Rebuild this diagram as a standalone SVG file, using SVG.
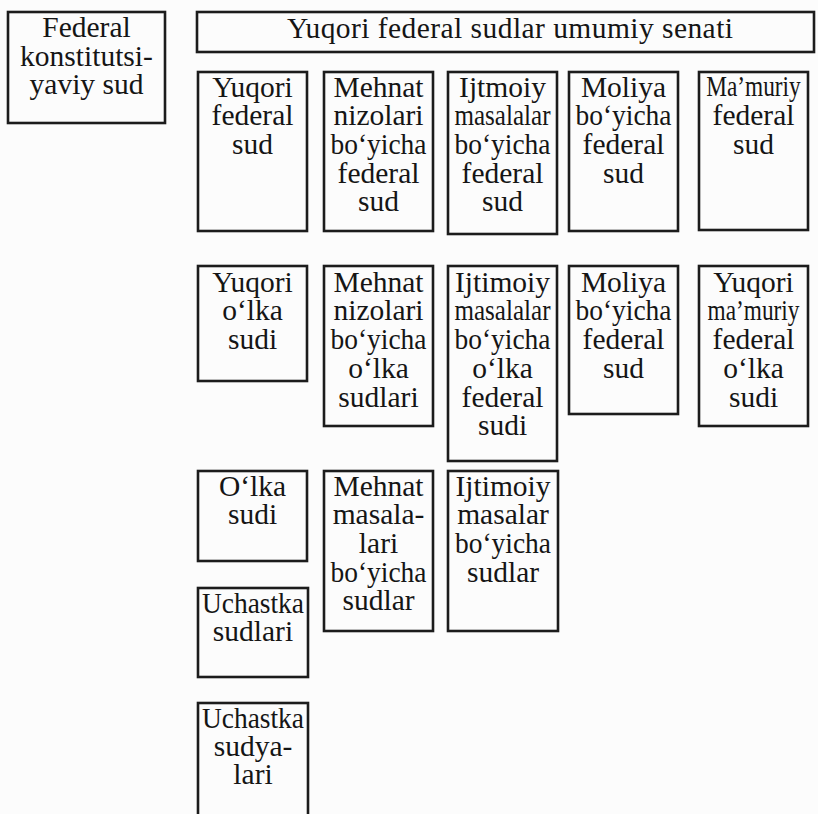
<svg xmlns="http://www.w3.org/2000/svg" width="818" height="814" viewBox="0 0 818 814">
  <style>
    .bg { fill: #fcfcfc; }
    .box { fill: none; stroke: #1c1c1c; stroke-width: 2.6; }
    .t { font-family: "Liberation Serif", "Times New Roman", serif; font-size: 29.5px; fill: #151515; text-anchor: middle; }
  </style>
  <rect class="bg" x="0" y="0" width="818" height="814"/>

  <!-- left standalone court -->
  <g id="federal-konstitutsiyaviy-sud">
    <rect class="box" x="8" y="12" width="157" height="111"/>
    <text class="t" x="86.5" y="37">Federal</text>
    <text class="t" x="86.5" y="66">konstitutsi-</text>
    <text class="t" x="86.5" y="94">yaviy sud</text>
  </g>

  <!-- joint senate header -->
  <g id="umumiy-senat">
    <rect class="box" x="197" y="12" width="617" height="40"/>
    <text class="t" x="510" y="38" textLength="446" lengthAdjust="spacing">Yuqori federal sudlar umumiy senati</text>
  </g>

  <!-- row 1: federal courts -->
  <g id="yuqori-federal-sud">
    <rect class="box" x="198" y="72" width="109" height="159"/>
    <text class="t" x="252.5" y="97">Yuqori</text>
    <text class="t" x="252.5" y="125">federal</text>
    <text class="t" x="252.5" y="154">sud</text>
  </g>
  <g id="mehnat-federal-sud">
    <rect class="box" x="324" y="72" width="109" height="159"/>
    <text class="t" x="378.5" y="97">Mehnat</text>
    <text class="t" x="378.5" y="125">nizolari</text>
    <text class="t" x="378.5" y="154" textLength="96" lengthAdjust="spacingAndGlyphs">bo‘yicha</text>
    <text class="t" x="378.5" y="183">federal</text>
    <text class="t" x="378.5" y="211">sud</text>
  </g>
  <g id="ijtimoiy-federal-sud">
    <rect class="box" x="448" y="72" width="109" height="162"/>
    <text class="t" x="502.5" y="97">Ijtmoiy</text>
    <text class="t" x="502.5" y="125" textLength="96" lengthAdjust="spacingAndGlyphs">masalalar</text>
    <text class="t" x="502.5" y="154" textLength="96" lengthAdjust="spacingAndGlyphs">bo‘yicha</text>
    <text class="t" x="502.5" y="183">federal</text>
    <text class="t" x="502.5" y="211">sud</text>
  </g>
  <g id="moliya-federal-sud">
    <rect class="box" x="569" y="72" width="109" height="159"/>
    <text class="t" x="623.5" y="97">Moliya</text>
    <text class="t" x="623.5" y="125" textLength="96" lengthAdjust="spacingAndGlyphs">bo‘yicha</text>
    <text class="t" x="623.5" y="154">federal</text>
    <text class="t" x="623.5" y="183">sud</text>
  </g>
  <g id="mamuriy-federal-sud">
    <rect class="box" x="699" y="72" width="109" height="158"/>
    <!-- condensed word, squeezed horizontally to fit the narrow box -->
    <text class="t" transform="translate(753.5 96) scale(0.79 1)">Ma’muriy</text>
    <text class="t" x="753.5" y="125">federal</text>
    <text class="t" x="753.5" y="154">sud</text>
  </g>

  <!-- row 2: land-level courts -->
  <g id="yuqori-olka-sudi">
    <rect class="box" x="198" y="266" width="109" height="115"/>
    <text class="t" x="252.5" y="292">Yuqori</text>
    <text class="t" x="252.5" y="320">o‘lka</text>
    <text class="t" x="252.5" y="349">sudi</text>
  </g>
  <g id="mehnat-olka-sudlari">
    <rect class="box" x="324" y="266" width="109" height="160"/>
    <text class="t" x="378.5" y="292">Mehnat</text>
    <text class="t" x="378.5" y="320">nizolari</text>
    <text class="t" x="378.5" y="349" textLength="96" lengthAdjust="spacingAndGlyphs">bo‘yicha</text>
    <text class="t" x="378.5" y="378">o‘lka</text>
    <text class="t" x="378.5" y="407">sudlari</text>
  </g>
  <g id="ijtimoiy-olka-federal-sudi">
    <rect class="box" x="448" y="266" width="109" height="195"/>
    <text class="t" x="502.5" y="292">Ijtimoiy</text>
    <text class="t" x="502.5" y="320" textLength="96" lengthAdjust="spacingAndGlyphs">masalalar</text>
    <text class="t" x="502.5" y="349" textLength="96" lengthAdjust="spacingAndGlyphs">bo‘yicha</text>
    <text class="t" x="502.5" y="378">o‘lka</text>
    <text class="t" x="502.5" y="407">federal</text>
    <text class="t" x="502.5" y="435">sudi</text>
  </g>
  <g id="moliya-federal-sud-2">
    <rect class="box" x="569" y="266" width="109" height="148"/>
    <text class="t" x="623.5" y="292">Moliya</text>
    <text class="t" x="623.5" y="320" textLength="96" lengthAdjust="spacingAndGlyphs">bo‘yicha</text>
    <text class="t" x="623.5" y="349">federal</text>
    <text class="t" x="623.5" y="378">sud</text>
  </g>
  <g id="yuqori-mamuriy-olka-sudi">
    <rect class="box" x="699" y="266" width="109" height="160"/>
    <text class="t" x="753.5" y="292">Yuqori</text>
    <text class="t" transform="translate(753.5 320) scale(0.79 1)">ma’muriy</text>
    <text class="t" x="753.5" y="349">federal</text>
    <text class="t" x="753.5" y="378">o‘lka</text>
    <text class="t" x="753.5" y="407">sudi</text>
  </g>

  <!-- row 3: lower courts -->
  <g id="olka-sudi">
    <rect class="box" x="198" y="471" width="109" height="90"/>
    <text class="t" x="252.5" y="496">O‘lka</text>
    <text class="t" x="252.5" y="524">sudi</text>
  </g>
  <g id="mehnat-masalalari-sudlar">
    <rect class="box" x="324" y="471" width="109" height="160"/>
    <text class="t" x="378.5" y="496">Mehnat</text>
    <text class="t" x="378.5" y="524">masala-</text>
    <text class="t" x="378.5" y="553">lari</text>
    <text class="t" x="378.5" y="582" textLength="96" lengthAdjust="spacingAndGlyphs">bo‘yicha</text>
    <text class="t" x="378.5" y="610">sudlar</text>
  </g>
  <g id="ijtimoiy-masalar-sudlar">
    <rect class="box" x="448" y="471" width="110" height="160"/>
    <text class="t" x="503" y="496">Ijtimoiy</text>
    <text class="t" x="503" y="524">masalar</text>
    <text class="t" x="503" y="553" textLength="96" lengthAdjust="spacingAndGlyphs">bo‘yicha</text>
    <text class="t" x="503" y="582">sudlar</text>
  </g>

  <!-- district level -->
  <g id="uchastka-sudlari">
    <rect class="box" x="198" y="588" width="110" height="89"/>
    <text class="t" x="253" y="613" textLength="102" lengthAdjust="spacingAndGlyphs">Uchastka</text>
    <text class="t" x="253" y="641">sudlari</text>
  </g>
  <g id="uchastka-sudyalari">
    <rect class="box" x="198" y="703" width="110" height="130"/>
    <text class="t" x="253" y="728" textLength="102" lengthAdjust="spacingAndGlyphs">Uchastka</text>
    <text class="t" x="253" y="756">sudya-</text>
    <text class="t" x="253" y="784">lari</text>
  </g>
</svg>
